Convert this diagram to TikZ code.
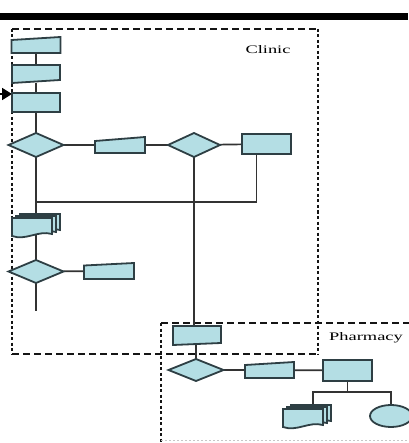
\documentclass[tikz,border=0pt]{standalone}
\usepackage{fontspec}
\setmainfont{Liberation Serif}
\usetikzlibrary{calc,arrows.meta}

\definecolor{boxfill}{HTML}{B4DEE4}
\definecolor{boxedge}{HTML}{2E3F44}
\definecolor{wire}{HTML}{333333}
\definecolor{frame}{HTML}{151515}

\tikzset{
  anchorbox/.style={inner sep=0pt, outer sep=0pt, draw=none},
  shp/.style={draw=boxedge, fill=boxfill, line width=1.8pt, line join=miter},
  link/.style={draw=wire, line width=1.7pt},
  hframe/.style={draw=frame, line width=1.6pt, dash pattern=on 7pt off 4pt},
  vframe/.style={draw=frame, line width=1.6pt, dash pattern=on 3pt off 2.5pt},
  lanelabel/.style={inner sep=0pt, font=\fontsize{11.5}{13}\selectfont},
}

% outlines drawn over the anchor boxes
\newcommand\plainbox[1]{\draw[shp] (#1.north west) rectangle (#1.south east);}
\newcommand\decision[1]{\draw[shp] (#1.north) -- (#1.east) -- (#1.south) -- (#1.west) -- cycle;}
\newcommand\slanttop[2]{\draw[shp] (#1.south west) -- (#1.south east) -- (#1.north east) -- ([yshift=-#2pt]#1.north west) -- cycle;}
\newcommand\slantbottom[2]{\draw[shp] (#1.north west) -- (#1.north east) -- ([yshift=#2pt]#1.south east) -- (#1.south west) -- cycle;}
\newcommand\docsheet[3]{\draw[shp]
  ($(#1.south west)+(#2,#3)$) -- ($(#1.north west)+(#2,#3)$) --
  ($(#1.north east)+(#2,#3)$) -- ($(#1.south east)+(#2,#3-2)$)
  .. controls ($(#1.south east)+(#2-14,#3-6)$) and ($(#1.south west)+(#2+14,#3+5)$) ..
  ($(#1.south west)+(#2,#3)$) -- cycle;}
\newcommand\docstack[1]{\docsheet{#1}{8}{-4}\docsheet{#1}{4}{-2}\docsheet{#1}{0}{0}}

\begin{document}
\begin{tikzpicture}[x=1pt,y=-1pt]
\useasboundingbox (0,0) rectangle (408,443);

% ---- anchor boxes for every step ----
% Clinic lane
\node[anchorbox, minimum width=49, minimum height=16] (c1) at (36,45) {};
\node[anchorbox, minimum width=48, minimum height=18] (c2) at (36,74) {};
\node[anchorbox, minimum width=48, minimum height=19] (c3) at (36,102.5) {};
\node[anchorbox, minimum width=55, minimum height=24] (d1) at (36,145) {};
\node[anchorbox, minimum width=50, minimum height=16] (r1) at (120,145) {};
\node[anchorbox, minimum width=52, minimum height=24] (d2) at (194,145) {};
\node[anchorbox, minimum width=49, minimum height=20] (r2) at (266.5,144) {};
\node[anchorbox, minimum width=40, minimum height=18] (m1) at (32,227) {};
\node[anchorbox, minimum width=55, minimum height=23] (d3) at (36,271.5) {};
\node[anchorbox, minimum width=50, minimum height=16] (r3) at (109,271) {};
\coordinate (s1) at (36,311);
\coordinate (j1) at (36,202);
\coordinate (ain) at (-4,94);
% Pharmacy lane
\node[anchorbox, minimum width=48, minimum height=19] (p1) at (197,335.5) {};
\node[anchorbox, minimum width=55, minimum height=22] (d4) at (196,370) {};
\node[anchorbox, minimum width=49, minimum height=16] (r4) at (269.5,370) {};
\node[anchorbox, minimum width=49, minimum height=21] (r5) at (347.5,370.5) {};
\node[anchorbox, minimum width=40, minimum height=18] (m2) at (303,418) {};
\node[anchorbox, minimum width=42, minimum height=22] (e1) at (391,416) {};
\coordinate (b1) at (347.5,392);

% ---- heading bar ----
\fill[black] (0,13) rectangle (408,20);

% ---- swimlane frames ----
\draw[hframe] (12,29) -- (318,29);
\draw[hframe] (12,354) -- (318,354);
\draw[vframe] (12,29) -- (12,354);
\draw[vframe] (318,29) -- (318,354);
\draw[hframe] (161,323) -- (412,323);
\draw[vframe] (161,323) -- (161,446);
\draw[draw=black!22, line width=1pt, dash pattern=on 2pt off 2pt] (161,440) -- (408,440);

\node[lanelabel] (lclinic) at (268,50) {\scalebox{1.6}[1]{Clinic}};
\node[lanelabel] (lpharm) at (366,338) {\scalebox{1.6}[1]{Pharmacy}};

% ---- connectors ----
\draw[link] (c1) -- (c2);
\draw[link] (c2) -- (c3);
\draw[link] (c3) -- (d1);
\draw[link] (d1) -- (d1 |- m1) -- (d3);
\draw[link] (d3) -- (s1);
\draw[link] (d3) -- (r3);
\draw[link] (d1) -- (r1);
\draw[link] (r1) -- (d2);
\draw[link] (d2) -- (r2);
\draw[link] ([xshift=-10pt]r2.center) |- (j1);
\draw[link] (d2) -- (d2 |- p1);
\draw[link] (d4 |- p1) -- (d4);
\draw[link] (d4) -- (r4);
\draw[link] (r4) -- (r5);
\draw[link] (r5) -- (b1);
\draw[link] ($(m2.center)+(10,0)$) |- (b1) -| (e1);
\draw[link, draw=black, -{Triangle[length=10pt,width=12pt]}] (ain) -- (ain -| c3.west);

% ---- step outlines ----
\slanttop{c1}{3}
\slantbottom{c2}{3}
\plainbox{c3}
\decision{d1}
\slanttop{r1}{4}
\decision{d2}
\plainbox{r2}
\docstack{m1}
\decision{d3}
\slanttop{r3}{2.5}
\slantbottom{p1}{2}
\decision{d4}
\slanttop{r4}{3}
\plainbox{r5}
\docstack{m2}
\draw[shp] (e1) ellipse [x radius=21, y radius=11];
\end{tikzpicture}
\end{document}
